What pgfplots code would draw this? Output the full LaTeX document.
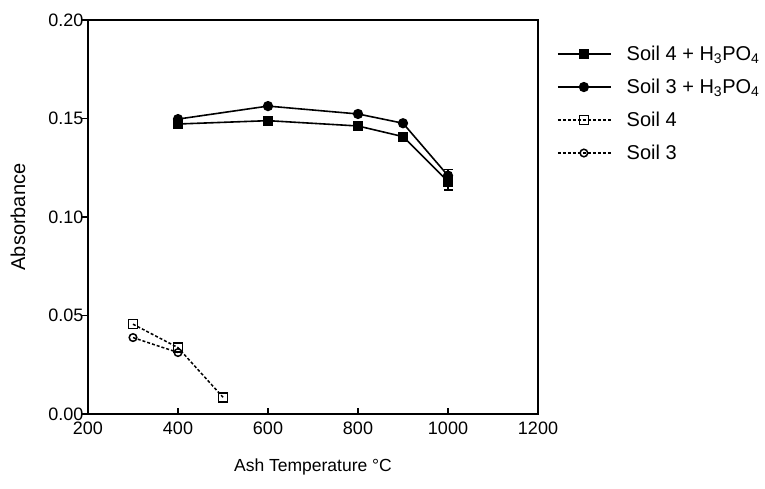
\documentclass[border=0pt]{standalone}
\usepackage{fontspec}
\setmainfont{Liberation Sans}
\usepackage{pgfplots}
\pgfplotsset{compat=1.18}

\newcommand{\hpo}{H\textsubscript{3}PO\textsubscript{4}}

\begin{document}
\begin{tikzpicture}
\begin{axis}[
    at={(0pt,0pt)}, anchor=south west,
    scale only axis,
    width=450pt, height=394pt,
    xmin=200, xmax=1200,
    ymin=0, ymax=0.20,
    xtick={200,400,600,800,1000,1200},
    ytick={0,0.05,0.10,0.15,0.20},
    yticklabels={0.00,0.05,0.10,0.15,0.20},
    xtick pos=bottom, ytick pos=left,
    tick align=inside,
    major tick length=6pt,
    ytick style={xshift=-6pt},
    tick style={line width=1.3pt, black},
    axis line style={line width=1.8pt},
    /pgf/number format/1000 sep={},
    /pgf/number format/assume math mode=true,
    tick label style={font=\fontsize{18}{18}\selectfont},
    yticklabel style={xshift=-1pt},
    xticklabel style={yshift=-4pt},
    xlabel={Ash Temperature °C},
    ylabel={Absorbance},
    xlabel style={font=\fontsize{17.5}{18}\selectfont,
        at={(axis description cs:0.5,0)}, anchor=center, yshift=-53pt},
    ylabel style={font=\fontsize{20}{20}\selectfont,
        at={(axis description cs:0,0.5)}, anchor=center, yshift=70pt},
    legend style={at={(axis description cs:1.042,0.788)}, anchor=west,
        draw=none, fill=none, font=\fontsize{20}{22}\selectfont,
        row sep=13pt, inner sep=0pt,
        /tikz/every odd column/.append style={column sep=13pt}},
    legend cell align=left,
    legend image code/.code={
        \draw[mark repeat=2, mark phase=2, #1] plot coordinates {(0pt,0pt) (26pt,0pt) (53pt,0pt)};
    },
]

\addplot[black, line width=1.6pt, mark=square*, mark size=4.3pt]
    coordinates {(400,0.1472) (600,0.1489) (800,0.1462) (900,0.1408) (1000,0.118)};
\addlegendentry{Soil 4 + \hpo}

\addplot[black, line width=1.6pt, mark=*, mark size=4.3pt]
    coordinates {(400,0.1497) (600,0.1563) (800,0.1523) (900,0.1476) (1000,0.121)};
\addlegendentry{Soil 3 + \hpo}

\addplot[black, line width=1.5pt, dash pattern=on 3pt off 2pt, mark=square, mark size=4.5pt,
    mark options={solid, fill=white, line width=1.5pt}]
    coordinates {(300,0.0456) (400,0.0337) (500,0.0085)};
\addlegendentry{Soil 4}

\addplot[black, line width=1.5pt, dash pattern=on 3pt off 2pt, mark=o, mark size=3.8pt,
    mark options={solid, fill=white, line width=1.5pt}]
    coordinates {(300,0.0388) (400,0.0312)};
\addlegendentry{Soil 3}

% error bar at 1000 C
\addplot[black, mark=none, forget plot,
    error bars/.cd, y dir=both, y explicit,
    error bar style={line width=1.4pt},
    error mark options={rotate=90, mark size=4.5pt, line width=1.4pt}]
    coordinates {(1000,0.119) +- (0,0.0052)};

\end{axis}
\path[use as bounding box] (-88pt,-75pt) rectangle (677pt,414pt);
\end{tikzpicture}
\end{document}
